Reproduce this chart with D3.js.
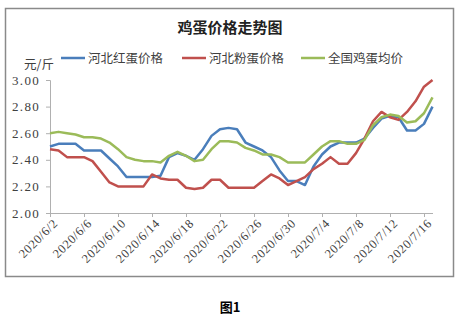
<!DOCTYPE html>
<html><head><meta charset="utf-8">
<script src="https://cdn.jsdelivr.net/npm/d3@7"></script>
<style>body{margin:0;background:#fff}svg{display:block}</style>
</head><body>
<svg id="c" width="462" height="322"></svg>
<script>
const dates = ["6/2","6/3","6/4","6/5","6/6","6/7","6/8","6/9","6/10","6/11","6/12","6/13","6/14","6/15","6/16","6/17","6/18","6/19","6/20","6/21","6/22","6/23","6/24","6/25","6/26","6/27","6/28","6/29","6/30","7/1","7/2","7/3","7/4","7/5","7/6","7/7","7/8","7/9","7/10","7/11","7/12","7/13","7/14","7/15","7/16","7/17"];
const seriesNames = ["河北红蛋价格","河北粉蛋价格","全国鸡蛋均价"];
const hebeiRed = [2.50,2.52,2.52,2.52,2.47,2.47,2.47,2.41,2.35,2.27,2.27,2.27,2.27,2.28,2.42,2.45,2.43,2.40,2.48,2.58,2.63,2.64,2.63,2.53,2.50,2.47,2.42,2.32,2.24,2.24,2.21,2.35,2.44,2.50,2.53,2.53,2.53,2.56,2.64,2.71,2.73,2.72,2.62,2.62,2.67,2.80];
const hebeiPink = [2.48,2.47,2.42,2.42,2.42,2.39,2.31,2.23,2.20,2.20,2.20,2.20,2.29,2.26,2.25,2.25,2.19,2.18,2.19,2.25,2.25,2.19,2.19,2.19,2.19,2.24,2.29,2.26,2.21,2.24,2.27,2.33,2.37,2.42,2.37,2.37,2.45,2.56,2.69,2.76,2.72,2.70,2.76,2.84,2.95,3.00];
const national = [2.60,2.61,2.60,2.59,2.57,2.57,2.56,2.53,2.48,2.42,2.40,2.39,2.39,2.38,2.43,2.46,2.43,2.39,2.40,2.48,2.54,2.54,2.53,2.49,2.47,2.44,2.44,2.42,2.38,2.38,2.38,2.44,2.50,2.54,2.54,2.52,2.52,2.55,2.66,2.72,2.74,2.73,2.68,2.69,2.75,2.87];
const yTicks = [2.00,2.20,2.40,2.60,2.80,3.00];
const xTickIdx = [0,4,8,12,16,20,24,28,32,36,40,44];
const year = "2020";
const colors = ["#4a7ebb","#c0504d","#9bbb59"];

const svg = d3.select("#c");
const cjk = "'Noto Sans CJK SC', sans-serif";
const serif = "'Liberation Serif', 'DejaVu Serif', serif";

// frame
svg.append("rect").attr("x",5.5).attr("y",8.5).attr("width",448).attr("height",268)
  .attr("fill","#fff").attr("stroke","#8a8a8a").attr("stroke-width",1.5);

const x = d3.scaleLinear().domain([0,45]).range([50,432.5]);
const y = d3.scaleLinear().domain([2,3]).range([213,80]);

// title
svg.append("text").attr("x",230).attr("y",33).attr("text-anchor","middle")
  .attr("font-family",cjk).attr("font-weight","bold").attr("font-size",15).attr("fill","#222")
  .text("鸡蛋价格走势图");

// legend
const legX = [61,182,301];
seriesNames.forEach((n,i)=>{
  svg.append("line").attr("x1",legX[i]).attr("x2",legX[i]+24).attr("y1",58).attr("y2",58)
    .attr("stroke",colors[i]).attr("stroke-width",2.5);
  svg.append("text").attr("x",legX[i]+27).attr("y",62.5).attr("font-family",cjk)
    .attr("font-size",12.5).attr("fill","#404040").text(n);
});

// unit
svg.append("text").attr("x",24).attr("y",69).attr("font-family",cjk).attr("font-size",12.5)
  .attr("fill","#404040").text("元/斤");

// y axis
const yAxis = d3.axisLeft(y).tickValues(yTicks).tickSize(4).tickFormat(d3.format(".2f"));
const gy = svg.append("g").attr("transform","translate(50,0)").call(yAxis);
gy.select(".domain").attr("stroke","#b0b0b0");
gy.selectAll(".tick line").attr("stroke","#b0b0b0");
gy.selectAll(".tick text").attr("font-family",serif).attr("font-size",13).attr("fill","#404040")
  .attr("x",-10).attr("letter-spacing","1.3px");

// x axis
const xAxis = d3.axisBottom(x).tickValues(xTickIdx).tickSize(4).tickSizeOuter(0)
  .tickFormat(i=>year+"/"+dates[i]);
const gx = svg.append("g").attr("transform","translate(0,213)").call(xAxis);
gx.select(".domain").remove();
gx.append("line").attr("x1",50).attr("x2",433).attr("y1",0.5).attr("y2",0.5).attr("stroke","#b0b0b0");
gx.selectAll(".tick line").attr("stroke","#b0b0b0");
gx.selectAll(".tick text").attr("font-family",serif).attr("font-size",12.5).attr("fill","#404040")
  .attr("text-anchor","end").attr("dy",null).attr("y",0).attr("letter-spacing","0.6px")
  .attr("transform","translate(6,9) rotate(-45)").attr("dominant-baseline","middle");

// lines
const line = d3.line().x((d,i)=>x(i)).y(d=>y(d));
[hebeiRed,hebeiPink,national].forEach((s,i)=>{
  svg.append("path").datum(s).attr("d",line).attr("fill","none")
    .attr("stroke",colors[i]).attr("stroke-width",2.5).attr("stroke-linejoin","round");
});

// caption
svg.append("text").attr("x",230).attr("y",312).attr("text-anchor","middle")
  .attr("font-family",cjk).attr("font-weight","bold").attr("font-size",13).attr("fill","#000")
  .text("图1");
</script>
</body></html>
